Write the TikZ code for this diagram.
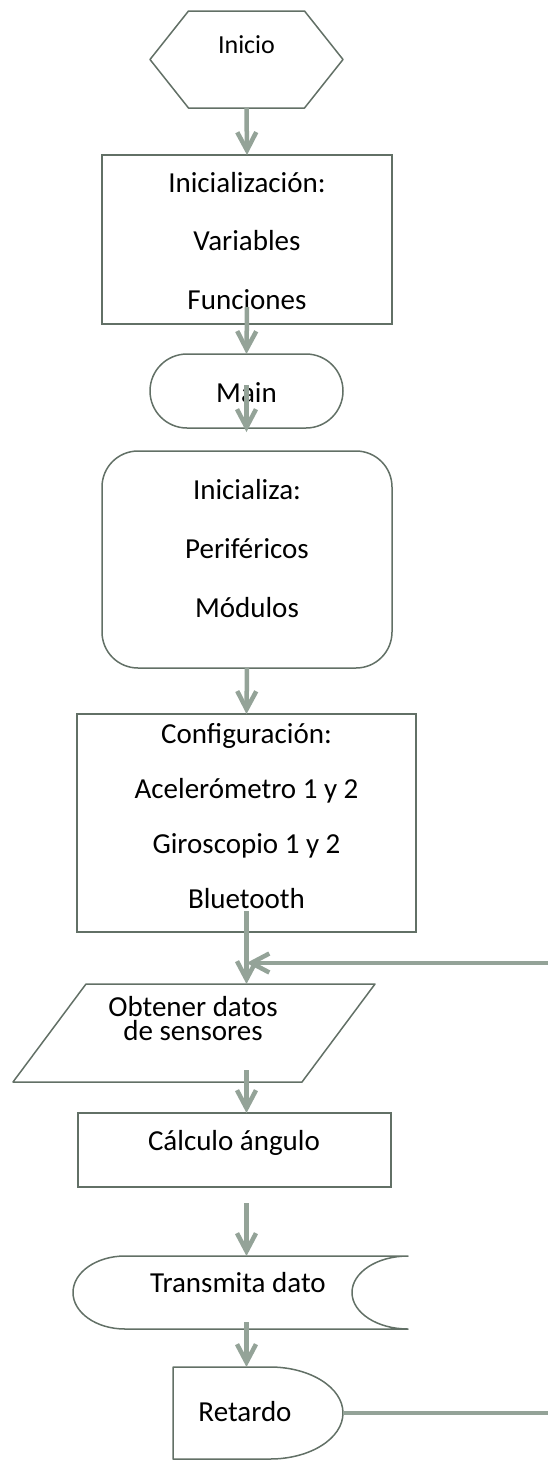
\documentclass[tikz,border=0pt]{standalone}
\usepackage{fontspec}
\setmainfont{Carlito}
\usetikzlibrary{arrows.meta,calc}
\definecolor{flowgray}{RGB}{148,163,152}
\definecolor{edgegray}{RGB}{98,112,102}

\begin{document}
\begin{tikzpicture}[
  x=0.5pt, y=-0.5pt,
  every node/.style={inner sep=0pt, outer sep=0pt},
  txt/.style={font=\fontsize{14.5}{#1}\selectfont, align=center},
  txt/.default=17,
  shapebox/.style={rectangle},
  procbox/.style={rectangle, draw=edgegray, line width=0.75pt},
  shapeline/.style={draw=edgegray, line width=0.75pt, line join=round},
  flowarrow/.style={draw=flowgray, line width=2.25pt, -{Straight Barb[length=9pt,width=9.5pt]}},
  flowline/.style={draw=flowgray, line width=2.25pt}
]
\useasboundingbox (0,0) rectangle (548,1462);

% Shapes
\node[shapebox, minimum width=96.5pt, minimum height=48.5pt] (inicio) at (246.5,59.5) {};
\node[procbox, minimum width=145pt, minimum height=84.5pt] (init) at (247,239.5) {};
\node[procbox, rounded corners=18.5pt, minimum width=96.5pt, minimum height=37pt] (main) at (246.5,391) {};
\node[procbox, rounded corners=18pt, minimum width=145pt, minimum height=108.5pt] (periph) at (247,559.5) {};
\node[procbox, minimum width=169.5pt, minimum height=109pt] (cfg) at (246.5,823) {};
\node[shapebox, minimum width=181pt, minimum height=49pt] (data) at (194,1033) {};
\node[procbox, minimum width=156.5pt, minimum height=37pt] (calc) at (234.5,1150) {};
\node[shapebox, minimum width=141.5pt, minimum height=36.5pt] (transmit) at (266.5,1292.5) {};
\node[shapebox, minimum width=85pt, minimum height=46pt] (retardo) at (258,1413) {};

% Outlines of the special shapes
\draw[shapeline] (inicio.west) -- ([xshift=19.25pt]inicio.north west) -- ([xshift=-19.25pt]inicio.north east)
  -- (inicio.east) -- ([xshift=-19.25pt]inicio.south east) -- ([xshift=19.25pt]inicio.south west) -- cycle;
\draw[shapeline] ([xshift=36.5pt]data.north west) -- (data.north east) -- ([xshift=-36.5pt]data.south east)
  -- (data.south west) -- cycle;
\draw[shapeline] (transmit.north east) arc[start angle=90, end angle=270, x radius=28pt, y radius=18.25pt]
  -- (transmit.south west) arc[start angle=270, end angle=90, x radius=26pt, y radius=18.25pt] -- cycle;
\draw[shapeline] (retardo.north west) -- ([xshift=-36.5pt]retardo.north east)
  arc[start angle=90, end angle=-90, x radius=36.5pt, y radius=23pt] -- (retardo.south west) -- cycle;

% Texts
\node[txt, font=\fontsize{13}{15}\selectfont] (t-inicio) at (246.5,45) {Inicio};
\node[txt=29.25] (t-init) at (247,241) {Inicialización:\\Variables\\Funciones};
\node[txt] (t-main) at (246.5,393) {Main};
\node[txt=29.5] (t-periph) at (247,549) {Inicializa:\\Periféricos\\Módulos};
\node[txt=27.5] (t-cfg) at (246.5,816) {Configuración:\\Acelerómetro 1 y 2\\Giroscopio 1 y 2\\Bluetooth};
\node[txt=12] (t-data) at (193,1019) {Obtener datos\\de sensores};
\node[txt] (t-calc) at (234,1143) {Cálculo ángulo};
\node[txt] (t-transmit) at (238,1283) {Transmita dato};
\node[txt] (t-retardo) at (245,1412) {Retardo};

% Flow
\draw[flowarrow] (inicio.south) -- (init.north);
\draw[flowarrow] ($(init.south)+(0pt,8.5pt)$) -- (main.north);
\draw[flowarrow] ($(main.south)+(0pt,21.5pt)$) -- ($(main.south)+(0pt,-2pt)$);
\draw[flowarrow] (periph.south) -- (cfg.north);
\draw[flowarrow] ($(cfg.south)+(0pt,10.5pt)$) -- (cfg.south |- data.north);
\draw[flowarrow] ($(cfg.south |- data.south)+(0pt,6pt)$) -- (cfg.south |- calc.north);
\draw[flowarrow] ($(cfg.south |- calc.south)+(0pt,-8pt)$) -- (cfg.south |- transmit.north);
\draw[flowarrow] ($(cfg.south |- transmit.south)+(0pt,3.5pt)$) -- (cfg.south |- retardo.north);

% Loop back
\coordinate (loop-r) at (548,1413);
\coordinate (loop-t) at (548,963);
\draw[flowline] (retardo.east) -- (loop-r);
\draw[flowarrow] (loop-t) -- (cfg.south |- loop-t);
\end{tikzpicture}
\end{document}
